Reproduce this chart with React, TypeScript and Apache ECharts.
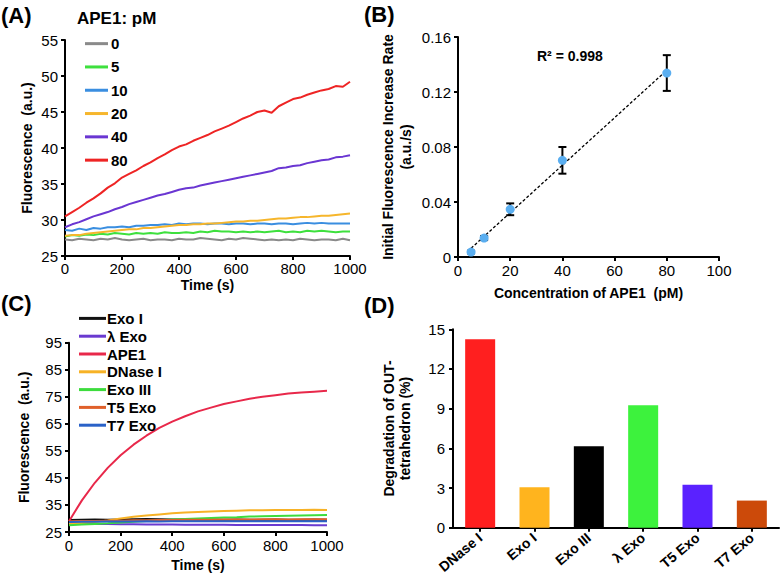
import React, { useEffect, useRef } from "react";
import * as echarts from "echarts";

const FONT = "'Liberation Sans', Arial, sans-serif";

// Panel A
const timesA = [0, 25, 50, 75, 100, 125, 150, 175, 200, 225, 250, 275, 300, 325, 350, 375, 400, 425, 450, 475, 500, 525, 550, 575, 600, 625, 650, 675, 700, 725, 750, 775, 800, 825, 850, 875, 900, 925, 950, 975, 1000];
const a0 = [27.3, 27.2, 27.4, 27.3, 27.2, 27.4, 27.3, 27.5, 27.3, 27.2, 27.3, 27.4, 27.2, 27.3, 27.3, 27.2, 27.4, 27.3, 27.3, 27.5, 27.4, 27.3, 27.2, 27.4, 27.3, 27.5, 27.4, 27.3, 27.2, 27.3, 27.2, 27.3, 27.2, 27.4, 27.3, 27.2, 27.3, 27.3, 27.2, 27.4, 27.2];
const a5 = [27.7, 27.9, 27.8, 28.0, 27.9, 28.1, 28.0, 28.2, 28.1, 28.0, 28.2, 28.1, 28.2, 28.1, 28.3, 28.2, 28.2, 28.3, 28.2, 28.4, 28.3, 28.5, 28.4, 28.4, 28.3, 28.4, 28.3, 28.4, 28.3, 28.4, 28.5, 28.3, 28.4, 28.3, 28.5, 28.4, 28.5, 28.4, 28.3, 28.4, 28.4];
const a10 = [28.6, 28.5, 28.8, 28.6, 28.9, 28.8, 29.0, 29.0, 29.1, 29.0, 29.2, 29.2, 29.3, 29.3, 29.4, 29.3, 29.5, 29.4, 29.5, 29.5, 29.4, 29.5, 29.5, 29.4, 29.5, 29.5, 29.4, 29.5, 29.5, 29.4, 29.5, 29.5, 29.4, 29.5, 29.6, 29.5, 29.6, 29.5, 29.5, 29.5, 29.5];
const a20 = [27.8, 27.9, 27.9, 28.1, 28.2, 28.3, 28.4, 28.5, 28.6, 28.7, 28.7, 28.9, 28.9, 29.0, 29.1, 29.2, 29.3, 29.3, 29.4, 29.4, 29.5, 29.5, 29.6, 29.7, 29.8, 29.8, 29.9, 29.9, 30.0, 30.1, 30.2, 30.2, 30.3, 30.4, 30.4, 30.5, 30.6, 30.6, 30.7, 30.8, 30.9];
const a40 = [29.0, 29.4, 29.7, 30.1, 30.5, 30.8, 31.1, 31.5, 31.8, 32.2, 32.5, 32.8, 33.1, 33.4, 33.6, 33.9, 34.2, 34.4, 34.5, 34.8, 35.0, 35.2, 35.4, 35.6, 35.8, 36.0, 36.2, 36.4, 36.6, 36.8, 37.2, 37.3, 37.5, 37.6, 37.9, 38.1, 38.3, 38.4, 38.7, 38.8, 39.0];
const a80 = [30.5, 31.1, 31.7, 32.4, 33.0, 33.7, 34.5, 35.1, 35.9, 36.4, 36.9, 37.5, 38.0, 38.6, 39.1, 39.7, 40.2, 40.5, 41.0, 41.4, 41.8, 42.3, 42.7, 43.1, 43.6, 44.1, 44.5, 45.0, 45.2, 44.9, 45.8, 46.3, 46.8, 47.0, 47.4, 47.7, 48.0, 48.2, 48.6, 48.5, 49.2];
const namesA = ["0", "5", "10", "20", "40", "80"];
const colorsA = ["#8a8a8a", "#3ee03e", "#3a8ee0", "#f6b62c", "#6a36d2", "#ee2424"];

// Panel B
const concB = [5, 10, 20, 40, 80];
const rateB = [0.0036, 0.0138, 0.0347, 0.0703, 0.1338];
const errB = [0.001, 0.0015, 0.0043, 0.0097, 0.013];

// Panel C
const timesC = [0, 50, 100, 150, 200, 250, 300, 350, 400, 450, 500, 550, 600, 650, 700, 750, 800, 850, 900, 950, 1000];
const cExoI = [29.4, 29.5, 29.6, 29.5, 29.6, 29.7, 29.8, 29.7, 29.6, 29.6, 29.5, 29.6, 29.5, 29.6, 29.5, 29.5, 29.6, 29.5, 29.5, 29.6, 29.5];
const cLambda = [28.3, 28.1, 28.0, 28.0, 27.9, 27.9, 27.8, 27.8, 27.8, 27.7, 27.7, 27.7, 27.7, 27.6, 27.6, 27.6, 27.6, 27.6, 27.6, 27.5, 27.5];
const cAPE1 = [29.0, 36.7, 43.2, 48.7, 53.4, 57.3, 60.6, 63.5, 65.8, 67.8, 69.6, 71.0, 72.3, 73.3, 74.3, 75.0, 75.6, 76.2, 76.6, 76.9, 77.2];
const cDNase = [28.0, 28.3, 28.7, 29.3, 30.0, 30.6, 31.1, 31.5, 31.9, 32.2, 32.4, 32.6, 32.8, 32.9, 33.0, 33.0, 33.1, 33.1, 33.1, 33.2, 33.1];
const cExoIII = [27.5, 27.8, 28.0, 28.2, 28.5, 28.8, 29.1, 29.3, 29.6, 29.8, 30.0, 30.2, 30.4, 30.5, 30.7, 30.8, 30.9, 31.0, 31.1, 31.2, 31.3];
const cT5 = [29.0, 29.1, 29.1, 29.2, 29.2, 29.3, 29.3, 29.4, 29.4, 29.5, 29.5, 29.5, 29.6, 29.6, 29.6, 29.7, 29.7, 29.6, 29.7, 29.7, 29.7];
const cT7 = [28.7, 28.8, 28.8, 28.9, 28.9, 28.9, 29.0, 28.9, 29.0, 29.0, 29.0, 29.0, 29.0, 29.0, 29.0, 29.0, 29.0, 29.0, 29.0, 29.0, 29.0];
const namesC = ["Exo I", "λ Exo", "APE1", "DNase I", "Exo III", "T5 Exo", "T7 Exo"];
const colorsC = ["#111111", "#6a3ad0", "#e8284a", "#f7b226", "#3ddc3d", "#e0602a", "#2a62c8"];

// Panel D
const enzymesD = ["DNase I", "Exo I", "Exo III", "λ Exo", "T5 Exo", "T7 Exo"];
const degradationD = [14.25, 3.05, 6.15, 9.25, 3.25, 2.05];
const colorsD = ["#ff1f1f", "#ffb41e", "#000000", "#3df23d", "#5a22ff", "#cc4a0a"];

export default function App() {
  const ref = useRef<HTMLDivElement>(null);
  useEffect(() => {
    if (!ref.current) return;
    const chart = echarts.init(ref.current, undefined, { renderer: "svg" });

    const seriesA = [a0, a5, a10, a20, a40, a80];
    const seriesC = [cExoI, cLambda, cAPE1, cDNase, cExoIII, cT5, cT7];

    // regression line for B
    const n = concB.length;
    const mx = concB.reduce((s, v) => s + v, 0) / n;
    const my = rateB.reduce((s, v) => s + v, 0) / n;
    let sxy = 0, sxx = 0;
    concB.forEach((x, i) => { sxy += (x - mx) * (rateB[i] - my); sxx += (x - mx) * (x - mx); });
    const slope = sxy / sxx;
    const icpt = my - slope * mx;
    const xMin = Math.min(...concB), xMax = Math.max(...concB);

    const plain = (v: number) => String(v);
    const axisLine = { show: true, lineStyle: { color: "#000", width: 2 } };
    const axisTick = { show: true, inside: false, length: 4, lineStyle: { color: "#000", width: 2 } };
    const axisLabel = { color: "#000", fontSize: 15, fontFamily: FONT, formatter: plain };
    const nameStyle = { color: "#000", fontSize: 14, fontWeight: "bold" as const, fontFamily: FONT };

    const option: any = {
      animation: false,
      backgroundColor: "#fff",
      grid: [
        { left: 65, right: 433, top: 40, bottom: 328 },
        { left: 458, right: 64, top: 37, bottom: 327 },
        { left: 69, right: 456, top: 342.7, bottom: 52 },
        { left: 453, right: 4, top: 329.3, bottom: 56.3 },
      ],
      xAxis: [
        {
          gridIndex: 0, type: "value", min: 0, max: 1000, interval: 200,
          name: "Time (s)", nameLocation: "middle", nameGap: 22, nameTextStyle: nameStyle,
          axisLine, axisTick, axisLabel: { ...axisLabel, margin: 5 }, splitLine: { show: false },
        },
        {
          gridIndex: 1, type: "value", min: 0, max: 100, interval: 20,
          name: "Concentration of APE1  (pM)", nameLocation: "middle", nameGap: 29, nameTextStyle: nameStyle,
          axisLine, axisTick, axisLabel: { ...axisLabel, margin: 6 }, splitLine: { show: false },
        },
        {
          gridIndex: 2, type: "value", min: 0, max: 1000, interval: 200,
          name: "Time (s)", nameLocation: "middle", nameGap: 26, nameTextStyle: nameStyle,
          axisLine, axisTick, axisLabel: { ...axisLabel, margin: 6 }, splitLine: { show: false },
        },
        {
          gridIndex: 3, type: "category", data: enzymesD,
          axisLine, axisTick: { ...axisTick, alignWithLabel: true },
          axisLabel: { color: "#000", fontSize: 14, fontFamily: FONT, fontWeight: "bold", rotate: 40, margin: 8, interval: 0 },
        },
      ],
      yAxis: [
        {
          gridIndex: 0, type: "value", min: 25, max: 55, interval: 5,
          name: "Fluorescence  (a.u.)", nameLocation: "middle", nameGap: 31, nameTextStyle: nameStyle,
          axisLine, axisTick, axisLabel: { ...axisLabel, margin: 7 }, splitLine: { show: false },
        },
        {
          gridIndex: 1, type: "value", min: 0, max: 0.16, interval: 0.04,
          name: "Initial Fluorescence Increase Rate\n(a.u./s)", nameLocation: "middle", nameGap: 43,
          nameTextStyle: { ...nameStyle, lineHeight: 18 },
          axisLine, axisTick, axisLabel: { ...axisLabel, margin: 7 }, splitLine: { show: false },
        },
        {
          gridIndex: 2, type: "value", min: 25, max: 95, interval: 10,
          name: "Fluorescence  (a.u.)", nameLocation: "middle", nameGap: 38, nameTextStyle: nameStyle,
          axisLine, axisTick, axisLabel: { ...axisLabel, margin: 7 }, splitLine: { show: false },
        },
        {
          gridIndex: 3, type: "value", min: 0, max: 15, interval: 3,
          name: "Degradation of OUT-\ntetrahedron (%)", nameLocation: "middle", nameGap: 40,
          nameTextStyle: { ...nameStyle, lineHeight: 16 },
          axisLine, axisTick, axisLabel: { ...axisLabel, margin: 8 }, splitLine: { show: false },
        },
      ],
      legend: [
        {
          data: namesA, orient: "vertical", left: 85, top: 32, padding: 0, itemGap: 0,
          icon: "rect", itemWidth: 23, itemHeight: 3,
          textStyle: { color: "#000", fontSize: 15, fontWeight: "bold", fontFamily: FONT, lineHeight: 23.3, padding: [0, 0, 0, -2] },
        },
        {
          data: namesC, orient: "vertical", left: 79, top: 309.5, padding: 0, itemGap: 0,
          icon: "rect", itemWidth: 27, itemHeight: 3,
          textStyle: { color: "#000", fontSize: 15, fontWeight: "bold", fontFamily: FONT, lineHeight: 17.8, padding: [0, 0, 0, -4] },
        },
      ],
      graphic: [
        { type: "text", left: 1, top: 4, style: { text: "(A)", fontSize: 22, fontWeight: "bold", fontFamily: FONT, fill: "#000" } },
        { type: "text", left: 364, top: 3, style: { text: "(B)", fontSize: 22, fontWeight: "bold", fontFamily: FONT, fill: "#000" } },
        { type: "text", left: 1, top: 292, style: { text: "(C)", fontSize: 22, fontWeight: "bold", fontFamily: FONT, fill: "#000" } },
        { type: "text", left: 364, top: 294, style: { text: "(D)", fontSize: 22, fontWeight: "bold", fontFamily: FONT, fill: "#000" } },
        { type: "text", left: 77, top: 10, style: { text: "APE1: pM", fontSize: 17, fontWeight: "bold", fontFamily: FONT, fill: "#000" } },
        { type: "text", left: 537, top: 49, style: { text: "R² = 0.998", fontSize: 14, fontWeight: "bold", fontFamily: FONT, fill: "#000" } },
      ],
      series: [
        ...seriesA.map((vals, k) => ({
          type: "line", name: namesA[k], xAxisIndex: 0, yAxisIndex: 0,
          data: timesA.map((t, i) => [t, vals[i]]), showSymbol: false, symbol: "none",
          lineStyle: { color: colorsA[k], width: 2 }, itemStyle: { color: colorsA[k] },
        })),
        {
          type: "line", name: "fit", xAxisIndex: 1, yAxisIndex: 1,
          data: [[xMin, icpt + slope * xMin], [xMax, icpt + slope * xMax]],
          showSymbol: false, symbol: "none", lineStyle: { color: "#000", width: 1.3, type: [3, 2] },
        },
        {
          type: "custom", name: "err", xAxisIndex: 1, yAxisIndex: 1,
          data: concB.map((c, i) => [c, rateB[i] - errB[i], rateB[i] + errB[i]]),
          renderItem: (params: any, api: any) => {
            const x = api.value(0);
            const lo = api.coord([x, api.value(1)]);
            const hi = api.coord([x, api.value(2)]);
            const w = 4;
            const st = { stroke: "#000", lineWidth: 2 };
            return {
              type: "group",
              children: [
                { type: "line", shape: { x1: lo[0], y1: lo[1], x2: hi[0], y2: hi[1] }, style: st },
                { type: "line", shape: { x1: lo[0] - w, y1: lo[1], x2: lo[0] + w, y2: lo[1] }, style: st },
                { type: "line", shape: { x1: hi[0] - w, y1: hi[1], x2: hi[0] + w, y2: hi[1] }, style: st },
              ],
            };
          },
          z: 3,
        },
        {
          type: "scatter", name: "rate", xAxisIndex: 1, yAxisIndex: 1,
          data: concB.map((c, i) => [c, rateB[i]]), symbolSize: 9,
          itemStyle: { color: "#5aaef0", opacity: 1 }, z: 4,
        },
        ...seriesC.map((vals, k) => ({
          type: "line", name: namesC[k], xAxisIndex: 2, yAxisIndex: 2,
          data: timesC.map((t, i) => [t, vals[i]]), showSymbol: false, symbol: "none",
          lineStyle: { color: colorsC[k], width: 2 }, itemStyle: { color: colorsC[k] },
        })),
        {
          type: "bar", name: "degradation", xAxisIndex: 3, yAxisIndex: 3, barWidth: 30,
          data: degradationD.map((v, i) => ({ value: v, itemStyle: { color: colorsD[i] } })),
        },
      ],
    };
    chart.setOption(option);
    return () => chart.dispose();
  }, []);
  return <div ref={ref} style={{ position: "fixed", left: 0, top: 0, width: 783, height: 584 }} />;
}
